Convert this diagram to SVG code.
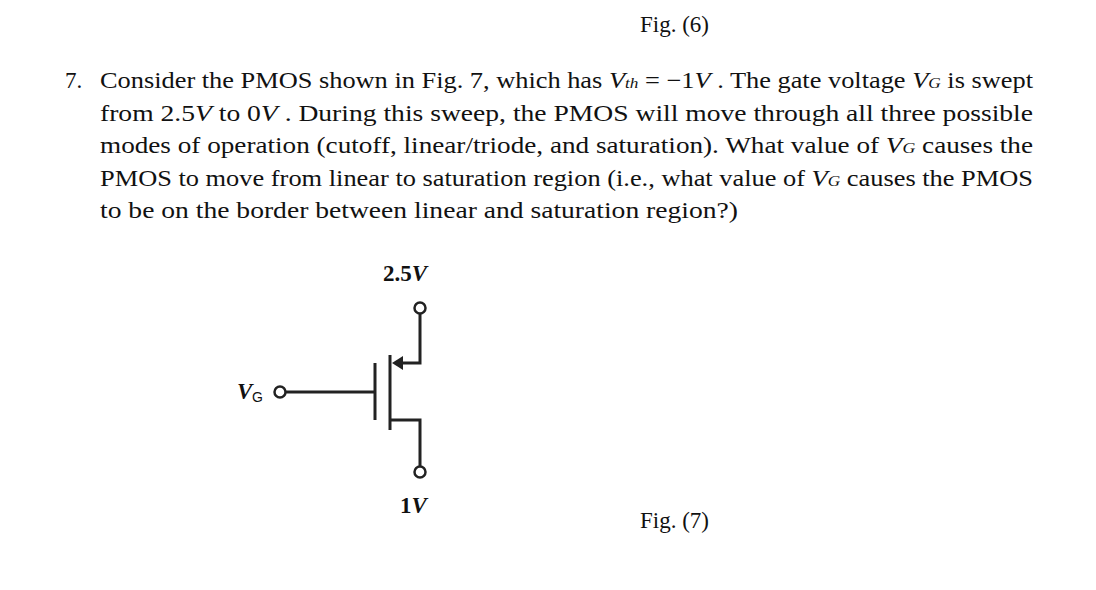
<svg xmlns="http://www.w3.org/2000/svg" width="1096" height="590" viewBox="0 0 1096 590">
<style>
text{font-family:"Liberation Serif","DejaVu Serif",serif;font-size:23px;fill:#111}
.w{stroke:#222;stroke-width:3;fill:none}
.t{fill:#fff;stroke:#222;stroke-width:2.5}
.s{font-family:"Liberation Sans",sans-serif;font-size:14px}
</style>
<rect width="1096" height="590" fill="#fff"/>
<text x="640" y="32">Fig. (6)</text>
<text x="65" y="88">7.</text>
<text x="100" y="88" textLength="933" lengthAdjust="spacingAndGlyphs">Consider the PMOS shown in Fig. 7, which has <tspan font-style="italic">V</tspan><tspan font-style="italic" font-size="15">th</tspan> = −1<tspan font-style="italic">V</tspan> . The gate voltage <tspan font-style="italic">V</tspan><tspan font-style="italic" font-size="15">G</tspan> is swept</text>
<text x="100" y="121" textLength="933" lengthAdjust="spacingAndGlyphs">from 2.5<tspan font-style="italic">V</tspan> to 0<tspan font-style="italic">V</tspan> . During this sweep, the PMOS will move through all three possible</text>
<text x="100" y="153" textLength="933" lengthAdjust="spacingAndGlyphs">modes of operation (cutoff, linear/triode, and saturation). What value of <tspan font-style="italic">V</tspan><tspan font-style="italic" font-size="15">G</tspan> causes the</text>
<text x="100" y="186" textLength="933" lengthAdjust="spacingAndGlyphs">PMOS to move from linear to saturation region (i.e., what value of <tspan font-style="italic">V</tspan><tspan font-style="italic" font-size="15">G</tspan> causes the PMOS</text>
<text x="100" y="218" textLength="638" lengthAdjust="spacingAndGlyphs">to be on the border between linear and saturation region?)</text>
<text x="383" y="281" font-size="23" font-weight="bold" fill="#333">2.5<tspan font-style="italic">V</tspan></text>
<text x="400" y="513" font-size="23" font-weight="bold" fill="#333">1<tspan font-style="italic">V</tspan></text>
<text x="237" y="399" font-size="23" font-style="italic" font-weight="bold" fill="#333">V</text><text class="s" x="252" y="402">G</text>
<g id="connectors">
<path class="w" d="M420 314V363H398"/>
<polygon points="392,363 403,356 403,370" fill="#222"/>
<path class="w" d="M390 355V430M375 363V420M286 392H375M390 420H420V466"/>
</g>
<g id="terminals">
<circle class="t" cx="420" cy="308" r="5.5"/>
<circle class="t" cx="280" cy="392" r="5.5"/>
<circle class="t" cx="420" cy="472" r="5.5"/>
</g>
<text x="640" y="528">Fig. (7)</text>
</svg>
